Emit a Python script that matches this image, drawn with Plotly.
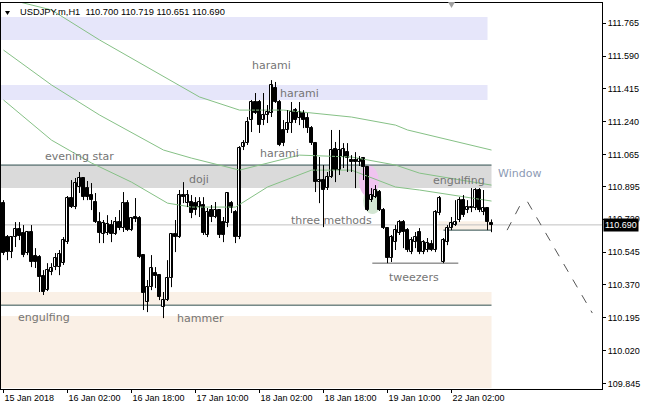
import plotly.graph_objects as go

# ---------------- data ----------------
bar_idx = list(range(123))
opens = [110.806,110.625,110.545,110.625,110.668,110.646,110.540,110.652,110.524,110.518,
         110.417,110.342,110.438,110.465,110.465,110.486,110.598,110.833,110.785,110.892,
         110.940,110.886,110.849,110.812,110.705,110.641,110.646,110.689,110.641,110.705,
         110.673,110.806,110.662,110.732,110.726,110.529,110.278,110.358,110.433,110.422,
         110.252,110.289,110.406,110.641,110.625,110.849,110.806,110.812,110.806,110.785,
         110.796,110.636,110.769,110.732,110.769,110.705,110.700,110.806,110.758,110.625,
         111.105,111.126,111.249,111.345,111.345,111.249,111.276,111.286,111.420,111.345,
         111.196,111.196,111.233,111.302,111.260,111.286,111.260,111.206,111.126,110.918,
         110.929,110.886,110.945,111.094,110.982,111.052,111.078,111.036,111.036,111.025,
         111.046,110.998,110.822,110.838,110.865,110.769,110.673,110.513,110.598,110.646,
         110.705,110.662,110.545,110.598,110.652,110.545,110.556,110.588,110.556,110.753,
         110.492,110.598,110.673,110.689,110.716,110.822,110.769,110.780,110.780,110.876,
         110.758,110.780,110.700]
highs = [110.822,110.636,110.630,110.705,110.705,110.689,110.657,110.689,110.566,110.529,
         110.449,110.486,110.486,110.540,110.556,110.625,110.844,110.929,110.940,110.972,
         110.945,110.924,110.913,110.860,110.758,110.716,110.742,110.716,110.732,110.769,
         110.865,110.822,110.732,110.833,110.737,110.529,110.396,110.529,110.465,110.428,
         110.332,110.502,110.646,110.716,110.876,110.918,110.876,110.849,110.838,110.838,
         110.838,110.780,110.796,110.812,110.774,110.732,110.865,110.817,110.769,111.110,
         111.142,111.265,111.356,111.393,111.356,111.393,111.329,111.462,111.452,111.356,
         111.249,111.302,111.345,111.313,111.345,111.302,111.286,111.217,111.132,111.052,
         111.009,110.972,111.196,111.132,111.196,111.126,111.126,111.062,111.078,111.057,
         111.052,111.004,110.886,110.902,110.876,110.780,110.678,110.636,110.689,110.716,
         110.716,110.673,110.625,110.652,110.673,110.609,110.620,110.609,110.769,110.844,
         110.620,110.689,110.732,110.822,110.838,110.849,110.822,110.886,110.886,110.886,
         110.876,110.785,110.719]
lows = [110.529,110.502,110.513,110.572,110.609,110.518,110.529,110.465,110.460,110.332,
        110.316,110.337,110.422,110.449,110.422,110.476,110.588,110.780,110.774,110.860,
        110.822,110.822,110.769,110.700,110.593,110.593,110.636,110.598,110.636,110.662,
        110.652,110.657,110.657,110.705,110.513,110.236,110.225,110.342,110.353,110.289,
        110.193,110.284,110.358,110.545,110.620,110.806,110.785,110.726,110.742,110.732,
        110.636,110.625,110.705,110.726,110.620,110.598,110.678,110.753,110.593,110.614,
        111.089,111.116,111.185,111.281,111.180,111.222,111.233,111.265,111.340,111.110,
        111.110,111.180,111.180,111.233,111.222,111.206,111.180,111.116,110.865,110.806,
        110.678,110.876,110.940,110.918,110.956,110.993,110.972,110.972,110.886,111.004,
        110.929,110.764,110.812,110.833,110.764,110.668,110.486,110.492,110.556,110.636,
        110.566,110.545,110.534,110.566,110.534,110.534,110.545,110.550,110.545,110.742,
        110.486,110.582,110.662,110.684,110.705,110.732,110.753,110.758,110.769,110.758,
        110.742,110.662,110.651]
closes = [110.540,110.545,110.625,110.668,110.630,110.529,110.652,110.492,110.492,110.412,
          110.332,110.449,110.460,110.513,110.534,110.609,110.833,110.785,110.913,110.940,
          110.838,110.838,110.822,110.705,110.646,110.700,110.694,110.641,110.705,110.673,
          110.806,110.662,110.726,110.721,110.518,110.326,110.358,110.460,110.417,110.305,
          110.289,110.406,110.641,110.625,110.849,110.838,110.849,110.753,110.769,110.812,
          110.646,110.758,110.732,110.769,110.636,110.636,110.860,110.780,110.625,111.100,
          111.126,111.238,111.345,111.286,111.222,111.276,111.292,111.436,111.345,111.116,
          111.126,111.233,111.292,111.249,111.292,111.249,111.206,111.126,110.918,110.929,
          110.876,110.945,111.089,110.982,111.089,111.094,111.046,111.025,111.025,111.041,
          110.998,110.769,110.849,110.876,110.769,110.673,110.513,110.625,110.662,110.705,
          110.652,110.556,110.609,110.625,110.545,110.598,110.593,110.556,110.758,110.833,
          110.609,110.673,110.700,110.705,110.822,110.742,110.785,110.785,110.876,110.769,
          110.780,110.705,110.690]

# moving averages (bar index, price)
ma_slow_x = [2, 12, 24, 37, 49, 59, 70, 87, 98, 101, 122]
ma_slow_y = [111.889, 111.836, 111.676, 111.516, 111.372, 111.302, 111.302, 111.265, 111.222, 111.196, 111.089]
ma_mid_x = [0, 12, 24, 40, 47, 59, 74, 87, 98, 104, 122]
ma_mid_y = [111.622, 111.436, 111.276, 111.089, 111.046, 110.982, 111.062, 111.052, 111.009, 110.966, 110.902]
ma_fast_x = [0, 12, 22, 32, 41, 47, 58, 66, 77, 87, 98, 104, 122]
ma_fast_y = [111.356, 111.142, 111.020, 110.918, 110.806, 110.785, 110.785, 110.892, 110.982, 110.982, 110.892, 110.876, 110.817]

# time-axis labels
tick_bars = [0, 16, 32, 48, 64, 80, 96, 112]
tick_text = ["15 Jan 2018", "16 Jan 02:00", "16 Jan 18:00", "17 Jan 10:00",
             "18 Jan 02:00", "18 Jan 18:00", "19 Jan 10:00", "22 Jan 02:00"]
# price-axis labels
price_ticks = [111.765, 111.590, 111.415, 111.240, 111.065, 110.895, 110.720,
               110.545, 110.370, 110.195, 110.020, 109.845]
last_price = 110.690

# pattern zones (price levels)
zone_top = (111.676, 111.798)
zone_harami = (111.356, 111.436)
zone_evening = (110.886, 111.009)
zone_hammer = (110.262, 110.332)
zone_engulf = (109.820, 110.204)
zone_window = (110.662, 110.710)
tweezers_level = 110.486
window_path_x = [125.9, 129.6]
window_path_y = [110.662, 110.813]
window_path2_x = [131.0, 147.2]
window_path2_y = [110.813, 110.220]

# ---------------- figure ----------------
XR = [-0.625, 149.625]
YR = [109.815, 111.873]
LBL = "#757575"

fig = go.Figure()

def rect(x0, x1, y0, y1, color, layer="below"):
    fig.add_shape(type="rect", xref="x", yref="y", x0=x0, x1=x1, y0=y0, y1=y1,
                  fillcolor=color, line=dict(width=0), layer=layer)

def hline(x0, x1, y, color, width=1, dash="solid", layer="below"):
    fig.add_shape(type="line", xref="x", yref="y", x0=x0, x1=x1, y0=y, y1=y,
                  line=dict(color=color, width=width, dash=dash), layer=layer)

rect(XR[0], 121, *zone_top, "#e6e6fa")
rect(XR[0], 121, *zone_harami, "#e6e6fa")
rect(XR[0], 122, *zone_evening, "#dadada")
hline(XR[0], 122, zone_evening[1], "#2f4f4f")
rect(XR[0], 122, *zone_hammer, "#faf0e6")
hline(XR[0], 122, zone_hammer[0], "#2f4f4f")
rect(XR[0], 122, *zone_engulf, "#faf0e6")
rect(108.7, 122, *zone_window, "#faf0e6")
hline(110, 122, zone_window[0], "#2f4f4f")
hline(92.2, 113.7, tweezers_level, "#606060")
hline(XR[0], XR[1], last_price, "#c0c0c0")

# three-methods highlight ellipses
fig.add_shape(type="circle", xref="x", yref="y", x0=89.9, x1=94.6, y0=110.748, y1=110.892,
              fillcolor="#d3e6d3", line=dict(width=0), layer="below")
fig.add_shape(type="circle", xref="x", yref="y", x0=88.9, x1=93.8, y0=110.840, y1=111.005,
              fillcolor="#f0c4f0", line=dict(width=0), layer="below")

# window projection
fig.add_trace(go.Scatter(x=window_path_x, y=window_path_y, mode="lines",
                         line=dict(color="#555555", width=1, dash="dash"), hoverinfo="skip"))
fig.add_trace(go.Scatter(x=window_path2_x, y=window_path2_y, mode="lines",
                         line=dict(color="#555555", width=1, dash="dash"), hoverinfo="skip"))

# moving averages
for mx, my in [(ma_slow_x, ma_slow_y), (ma_mid_x, ma_mid_y), (ma_fast_x, ma_fast_y)]:
    fig.add_trace(go.Scatter(x=mx, y=my, mode="lines", line=dict(color="#86c186", width=1),
                             hoverinfo="skip"))

# candles: wicks then bodies
wx, wy = [], []
for i, h, l in zip(bar_idx, highs, lows):
    wx += [i, i, None]
    wy += [h, l, None]
fig.add_trace(go.Scatter(x=wx, y=wy, mode="lines", line=dict(color="black", width=1),
                         hoverinfo="skip"))
body_base = [min(o, c) for o, c in zip(opens, closes)]
body_len = [max(abs(c - o), 0.001) for o, c in zip(opens, closes)]
body_col = ["white" if c >= o else "black" for o, c in zip(opens, closes)]
fig.add_trace(go.Bar(x=bar_idx, y=body_len, base=body_base, width=0.55,
                     marker=dict(color=body_col, line=dict(color="black", width=1)),
                     hoverinfo="skip"))

labels = [
    ("evening star", 19.0, 111.052), ("doji", 48.9, 110.934), ("harami", 66.9, 111.542),
    ("harami", 73.9, 111.393), ("harami", 69.0, 111.073), ("three methods", 81.9, 110.711),
    ("tweezers", 102.7, 110.412), ("engulfing", 113.9, 110.929), ("engulfing", 10.0, 110.198),
    ("hammer", 49.2, 110.193),
]
for t, x, y in labels:
    fig.add_annotation(x=x, y=y, xref="x", yref="y", text=t, showarrow=False,
                       font=dict(family="DejaVu Sans", size=11, color=LBL),
                       xanchor="center", yanchor="middle")
fig.add_annotation(x=128.9, y=110.966, xref="x", yref="y", text="Window", showarrow=False,
                   font=dict(family="DejaVu Sans", size=11, color="#8c9ab4"),
                   xanchor="center", yanchor="middle")

# header
fig.add_shape(type="path", xref="paper", yref="paper",
              path="M 0.0067 0.9795 L 0.0150 0.9795 L 0.0108 0.9690 Z",
              fillcolor="black", line=dict(width=0))
fig.add_annotation(x=0.0283, y=0.9765, xref="paper", yref="paper",
                   text="USDJPY.m,H1  110.700 110.719 110.651 110.690",
                   showarrow=False, xanchor="left", yanchor="middle",
                   font=dict(family="Liberation Sans", size=9.3, color="black"))
# chart-shift marker
fig.add_shape(type="path", xref="paper", yref="paper",
              path="M 0.7438 1.0026 L 0.7554 1.0026 L 0.7496 0.9870 Z",
              fillcolor="#a0a0a0", line=dict(width=0))

# last price box
fig.add_annotation(x=1.0, y=last_price, xref="paper", yref="y", text="110.690",
                   showarrow=False, xanchor="left", yanchor="middle",
                   bgcolor="black", font=dict(family="Liberation Sans", size=9, color="white"),
                   borderpad=1, xshift=1)

fig.update_layout(
    width=645, height=409, autosize=False,
    margin=dict(l=1, r=43, t=3, b=20),
    paper_bgcolor="white", plot_bgcolor="white",
    showlegend=False, bargap=0,
    xaxis=dict(range=XR, tickvals=tick_bars, ticktext=tick_text, ticks="outside",
               ticklen=3, tickcolor="black", ticklabelposition="outside right",
               showline=True, linecolor="black", mirror=True, showgrid=False,
               zeroline=False,
               tickfont=dict(family="Liberation Sans", size=9, color="black")),
    yaxis=dict(range=YR, side="right", tickvals=price_ticks,
               ticktext=[f"{v:.3f}" for v in price_ticks], ticks="outside", ticklen=3,
               tickcolor="black", showline=True, linecolor="black", mirror=True,
               showgrid=False, zeroline=False,
               tickfont=dict(family="Liberation Sans", size=9, color="black")),
)

fig.write_html("out.html", config={"displayModeBar": False},
               post_script="document.body.style.margin='0px';")
